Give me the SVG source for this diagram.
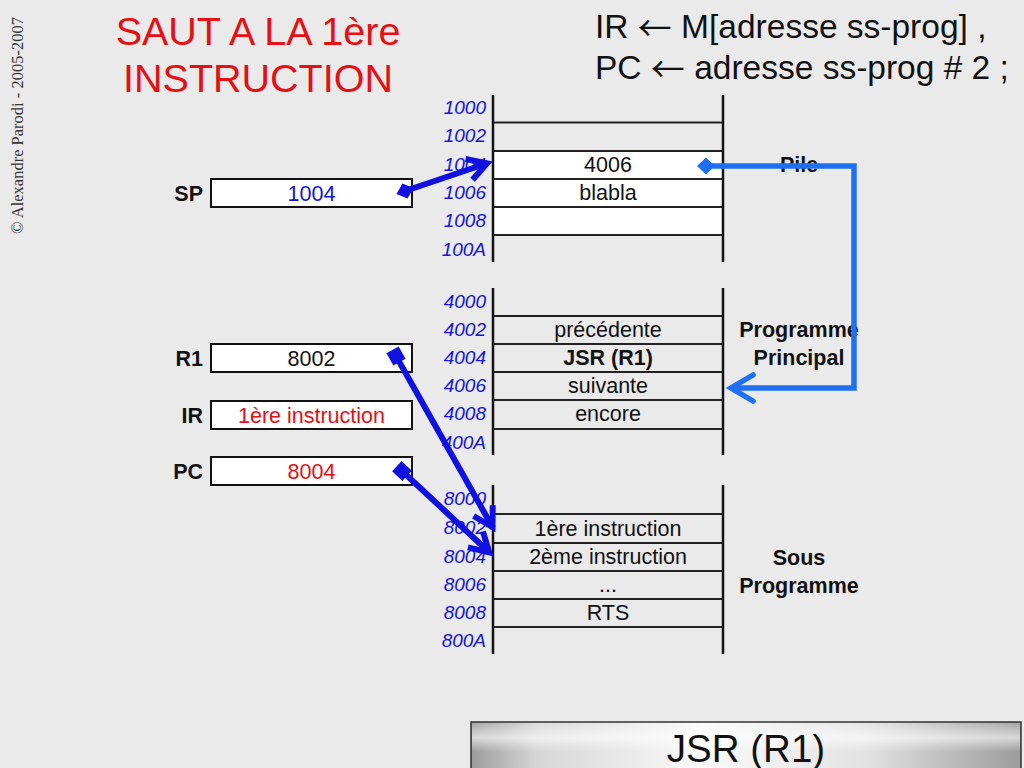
<svg xmlns="http://www.w3.org/2000/svg" width="1024" height="768" viewBox="0 0 1024 768">
<defs>
<style>
.addr{font-family:"Liberation Sans",Arial,sans-serif;font-size:19px;font-style:italic;fill:#1414dc;text-anchor:end}
.cell{font-family:"Liberation Sans",Arial,sans-serif;font-size:21.5px;fill:#111;text-anchor:middle}
.side{font-family:"Liberation Sans",Arial,sans-serif;font-size:21.5px;font-weight:bold;fill:#111;text-anchor:middle}
.reg{font-family:"Liberation Sans",Arial,sans-serif;font-size:21.5px;font-weight:bold;fill:#111;text-anchor:end}
.rbox{fill:#fff;stroke:#111;stroke-width:2}
.vline{stroke:#111;stroke-width:2.5}
.hline{stroke:#222;stroke-width:2}
.title{font-family:"Liberation Sans",Arial,sans-serif;font-size:39.5px;fill:#e60f14;text-anchor:middle}
.eq{font-family:"Liberation Sans",Arial,sans-serif;font-size:33.5px;fill:#111}
.arw{font-family:"Noto Sans CJK SC","DejaVu Sans",sans-serif;font-size:34px}
.dk{fill:none;stroke:#1010e0;stroke-width:6}
.lt{fill:none;stroke:#1f6ff2;stroke-width:5.5}
</style>
<marker id="diaL" markerUnits="userSpaceOnUse" markerWidth="20" markerHeight="20" refX="0" refY="0" orient="auto" overflow="visible">
<path d="M-9,0 L0,-8.5 L9,0 L0,8.5 Z" fill="#1f6ff2"/>
</marker>
<marker id="diaD" markerUnits="userSpaceOnUse" markerWidth="20" markerHeight="20" refX="0" refY="0" orient="auto" overflow="visible">
<path d="M-9,0 L0,-8 L9,0 L0,8 Z" fill="#1010e0"/>
</marker>
<marker id="sqD" markerUnits="userSpaceOnUse" markerWidth="20" markerHeight="20" refX="0" refY="0" orient="auto" overflow="visible">
<rect x="-7" y="-7" width="14" height="14" fill="#1010e0"/>
</marker>
<marker id="arrD" markerUnits="userSpaceOnUse" markerWidth="30" markerHeight="30" refX="0" refY="0" orient="auto" overflow="visible">
<path d="M-20,-11 L-1,0 L-20,11" fill="none" stroke="#1010e0" stroke-width="6" stroke-linejoin="miter"/>
</marker>
<marker id="arrL" markerUnits="userSpaceOnUse" markerWidth="30" markerHeight="30" refX="0" refY="0" orient="auto" overflow="visible">
<path d="M-23,-13 L-1,0 L-23,13" fill="none" stroke="#1f6ff2" stroke-width="5.5" stroke-linejoin="miter" stroke-linecap="round"/>
</marker>
<linearGradient id="metal" x1="0" y1="0" x2="1" y2="0">
<stop offset="0" stop-color="#9c9c9c"/>
<stop offset="0.12" stop-color="#d6d6d6"/>
<stop offset="0.42" stop-color="#fafafa"/>
<stop offset="0.72" stop-color="#e2e2e2"/>
<stop offset="1" stop-color="#9c9c9c"/>
</linearGradient>
<linearGradient id="shine" x1="0" y1="0" x2="0" y2="1">
<stop offset="0" stop-color="#ffffff" stop-opacity="0.1"/>
<stop offset="0.3" stop-color="#ffffff" stop-opacity="0.6"/>
<stop offset="0.6" stop-color="#ffffff" stop-opacity="0"/>
</linearGradient>
</defs>
<rect x="0" y="0" width="1024" height="768" fill="#eaeaea"/>

<g id="copyright">
<text transform="translate(23,234) rotate(-90)" font-family="Liberation Serif, Times New Roman, serif" font-size="16.5" fill="#333">© Alexandre Parodi - 2005-2007</text>
</g>

<g id="title">
<text class="title" x="258" y="45">SAUT A LA 1ère</text>
<text class="title" x="258" y="92">INSTRUCTION</text>
</g>

<g id="equation">
<text class="eq" x="595" y="38">IR <tspan class="arw" dy="3">←</tspan><tspan dy="-3"> M[adresse ss-prog] ,</tspan></text>
<text class="eq" x="595" y="79">PC <tspan class="arw" dy="3">←</tspan><tspan dy="-3"> adresse ss-prog # 2 ;</tspan></text>
</g>

<g id="pile">
<rect x="493" y="151" width="230" height="84" fill="#fff"/>
<line class="hline" x1="493" y1="122.5" x2="723" y2="122.5"/>
<line class="hline" x1="493" y1="151" x2="723" y2="151"/>
<line class="hline" x1="493" y1="179" x2="723" y2="179"/>
<line class="hline" x1="493" y1="207" x2="723" y2="207"/>
<line class="hline" x1="493" y1="235" x2="723" y2="235"/>
<line class="vline" x1="493" y1="95" x2="493" y2="262"/>
<line class="vline" x1="723" y1="95" x2="723" y2="262"/>
<text class="addr" x="486" y="114">1000</text>
<text class="addr" x="486" y="142">1002</text>
<text class="addr" x="486" y="171">1004</text>
<text class="addr" x="486" y="199">1006</text>
<text class="addr" x="486" y="227">1008</text>
<text class="addr" x="486" y="256">100A</text>
<text class="cell" x="608" y="172">4006</text>
<text class="cell" x="608" y="200">blabla</text>
<text class="side" x="799" y="172">Pile</text>
</g>

<g id="programme-principal">
<line class="hline" x1="493" y1="316" x2="723" y2="316"/>
<line class="hline" x1="493" y1="344" x2="723" y2="344"/>
<line class="hline" x1="493" y1="372" x2="723" y2="372"/>
<line class="hline" x1="493" y1="400" x2="723" y2="400"/>
<line class="hline" x1="493" y1="429" x2="723" y2="429"/>
<line class="vline" x1="493" y1="288" x2="493" y2="455"/>
<line class="vline" x1="723" y1="288" x2="723" y2="455"/>
<text class="addr" x="486" y="308">4000</text>
<text class="addr" x="486" y="336">4002</text>
<text class="addr" x="486" y="364">4004</text>
<text class="addr" x="486" y="392">4006</text>
<text class="addr" x="486" y="420">4008</text>
<text class="addr" x="486" y="449">400A</text>
<text class="cell" x="608" y="337">précédente</text>
<text class="cell" x="608" y="365" font-weight="bold">JSR (R1)</text>
<text class="cell" x="608" y="393">suivante</text>
<text class="cell" x="608" y="421">encore</text>
<text class="side" x="799" y="337">Programme</text>
<text class="side" x="799" y="365">Principal</text>
</g>

<g id="sous-programme">
<line class="hline" x1="493" y1="514" x2="723" y2="514"/>
<line class="hline" x1="493" y1="543" x2="723" y2="543"/>
<line class="hline" x1="493" y1="571" x2="723" y2="571"/>
<line class="hline" x1="493" y1="599" x2="723" y2="599"/>
<line class="hline" x1="493" y1="627" x2="723" y2="627"/>
<line class="vline" x1="493" y1="485" x2="493" y2="654"/>
<line class="vline" x1="723" y1="485" x2="723" y2="654"/>
<text class="addr" x="486" y="505">8000</text>
<text class="addr" x="486" y="534">8002</text>
<text class="addr" x="486" y="563">8004</text>
<text class="addr" x="486" y="591">8006</text>
<text class="addr" x="486" y="619">8008</text>
<text class="addr" x="486" y="647">800A</text>
<text class="cell" x="608" y="536">1ère instruction</text>
<text class="cell" x="608" y="564">2ème instruction</text>
<text class="cell" x="608" y="592">...</text>
<text class="cell" x="608" y="620">RTS</text>
<text class="side" x="799" y="565">Sous</text>
<text class="side" x="799" y="593">Programme</text>
</g>

<g id="reg-SP">
<rect class="rbox" x="211" y="179" width="201" height="28"/>
<text class="reg" x="203" y="201">SP</text>
<text class="cell" x="311.5" y="201" style="fill:#1414dc">1004</text>
</g>
<g id="reg-R1">
<rect class="rbox" x="211" y="344" width="201" height="28"/>
<text class="reg" x="203" y="366">R1</text>
<text class="cell" x="311.5" y="366">8002</text>
</g>
<g id="reg-IR">
<rect class="rbox" x="211" y="401" width="201" height="28"/>
<text class="reg" x="203" y="423">IR</text>
<text class="cell" x="311.5" y="423" style="fill:#e60f14">1ère instruction</text>
</g>
<g id="reg-PC">
<rect class="rbox" x="211" y="457" width="201" height="28"/>
<text class="reg" x="203" y="479">PC</text>
<text class="cell" x="311.5" y="479" style="fill:#e60f14">8004</text>
</g>

<g id="connectors">
<path class="dk" d="M405,191 L488,163" marker-start="url(#diaD)" marker-end="url(#arrD)"/>
<path class="lt" d="M706,166 L854,166 L854,388 L730,388" marker-start="url(#diaL)" marker-end="url(#arrL)"/>
<path class="dk" d="M396,356 L493,528" marker-start="url(#sqD)" marker-end="url(#arrD)"/>
<path class="dk" d="M402,471 L490,553" marker-start="url(#sqD)" marker-end="url(#arrD)"/>
</g>

<g id="footer">
<rect x="471" y="722" width="550" height="50" fill="url(#metal)" stroke="#333" stroke-width="1.5"/>
<rect x="472" y="723" width="548" height="48" fill="url(#shine)"/>
<text x="746" y="762" font-family="Liberation Sans, Arial, sans-serif" font-size="38.5" fill="#111" text-anchor="middle">JSR (R1)</text>
</g>
</svg>
